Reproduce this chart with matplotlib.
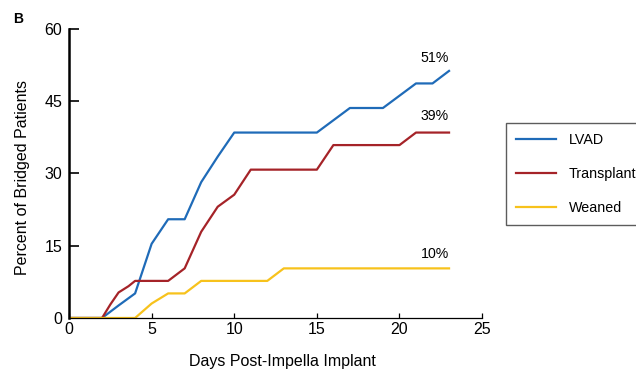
import matplotlib
matplotlib.use("Agg")
import matplotlib.pyplot as plt

plt.rcParams['font.family'] = ['Liberation Sans', 'DejaVu Sans']

# days and percent of bridged patients
lvad_days = [0, 2, 3, 4, 5, 6, 7, 8, 9, 10, 15, 17, 19, 21, 22, 23]
lvad_pct = [0, 0, 2.6, 5.1, 15.4, 20.5, 20.5, 28.2, 33.5, 38.5, 38.5, 43.6, 43.6, 48.7, 48.7, 51.3]

tx_days = [0, 2, 2.5, 3, 3.6, 4, 6, 7, 8, 9, 10, 11, 15, 16, 20, 21, 23]
tx_pct = [0, 0, 2.8, 5.3, 6.6, 7.7, 7.7, 10.3, 17.9, 23.1, 25.6, 30.8, 30.8, 35.9, 35.9, 38.5, 38.5]

wean_days = [0, 4, 5, 6, 7, 8, 12, 13, 23]
wean_pct = [0, 0, 3.0, 5.1, 5.1, 7.7, 7.7, 10.3, 10.3]

end_labels = ["51%", "39%", "10%"]
end_label_y = [54.0, 42.0, 13.3]


def main():
	fig = plt.figure(figsize=(6.36, 3.71), dpi=100)
	ax = fig.add_axes([0.1085, 0.1429, 0.6495, 0.7789])

	ax.plot(lvad_days, lvad_pct, color='#1f6bb8', lw=1.6, label='LVAD')
	ax.plot(tx_days, tx_pct, color='#a52328', lw=1.6, label='Transplant')
	ax.plot(wean_days, wean_pct, color='#f7c21c', lw=1.6, label='Weaned')

	for lab, yy in zip(end_labels, end_label_y):
		ax.text(23, yy, lab, ha='right', va='center', fontsize=10.2)

	ax.set_xlim(0, 25)
	ax.set_ylim(0, 60)
	ax.set_xticks([0, 5, 10, 15, 20, 25])
	ax.set_yticks([0, 15, 30, 45, 60])
	ax.tick_params(axis='y', direction='in', length=7.5, width=1.2, labelsize=11.5, pad=5)
	ax.tick_params(axis='x', direction='in', length=3.5, width=0.9, labelsize=11.5, pad=3)
	ax.spines['top'].set_visible(False)
	ax.spines['right'].set_visible(False)
	ax.spines['left'].set_linewidth(1.8)
	ax.spines['bottom'].set_linewidth(0.9)

	ax.set_xlabel('Days Post-Impella Implant', fontsize=11.5)
	ax.xaxis.set_label_coords((282 - 69) / 413, -(362 - 318) / 289, transform=ax.transAxes)
	ax.xaxis.label.set_va('center')
	ax.set_ylabel('Percent of Bridged Patients', fontsize=11.5)
	ax.yaxis.set_label_coords(-(69 - 22.5) / 413, (318 - 177.5) / 289, transform=ax.transAxes)
	ax.yaxis.label.set_va('center')
	fig.text(0.02, 1 - 12 / 371, 'B', fontsize=10, fontweight='bold', va='top')

	leg = ax.legend(loc='upper left', bbox_to_anchor=(506 / 636, 1 - 123 / 371),
		bbox_transform=fig.transFigure, frameon=True, fancybox=False,
		fontsize=10.3, handlelength=2.8, labelspacing=1.42, borderpad=0.68,
		handletextpad=0.9, borderaxespad=0)
	leg.get_frame().set_edgecolor('#333333')
	leg.get_frame().set_linewidth(1.0)

	fig.savefig('out.png', dpi=100)


if __name__ == "__main__":
	main()
